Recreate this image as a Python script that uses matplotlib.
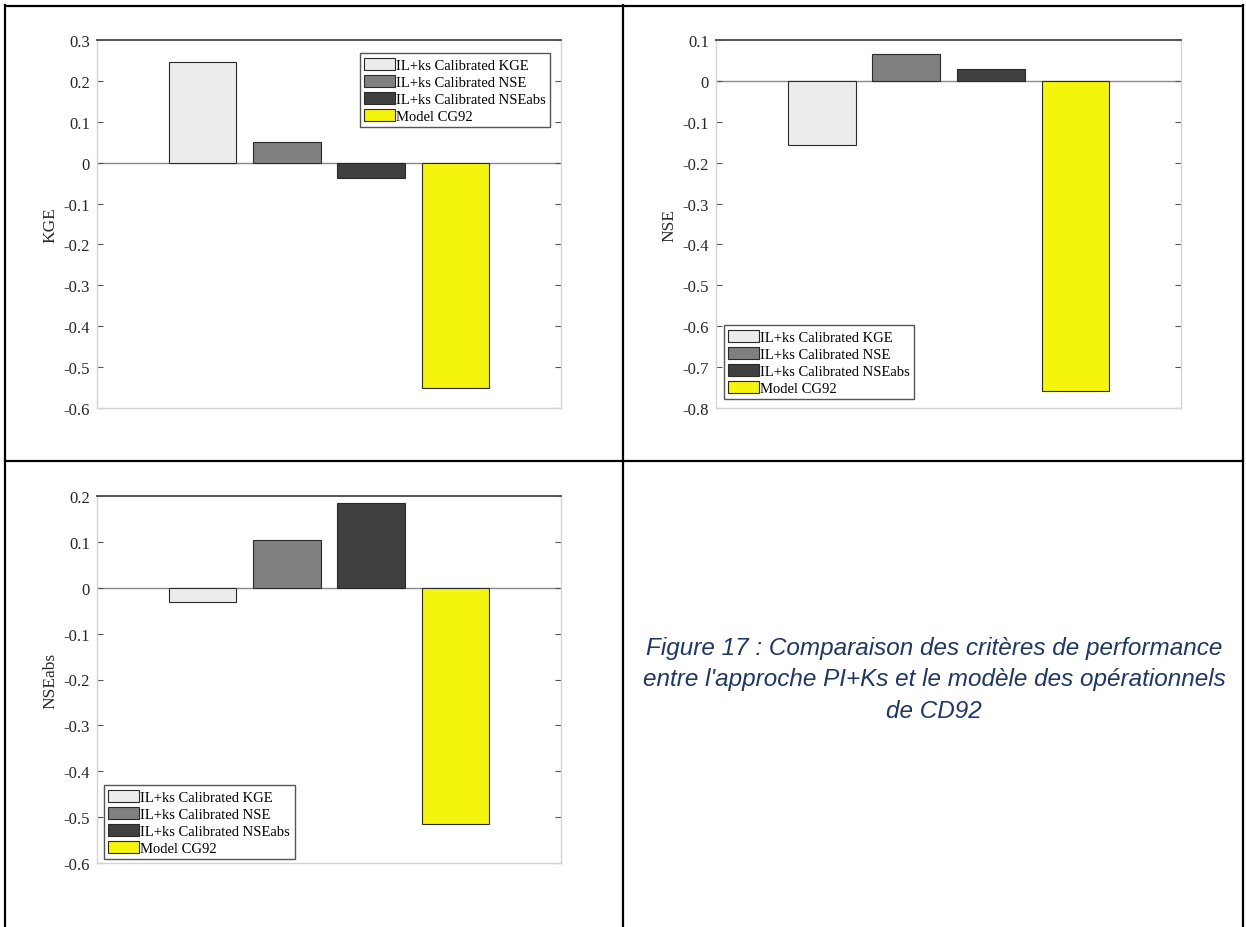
import matplotlib

matplotlib.use("Agg")
import matplotlib.pyplot as plt  # noqa: E402
from matplotlib.lines import Line2D  # noqa: E402
from matplotlib.patches import Patch  # noqa: E402

W, H = 1246, 928

SERIES = ["IL+ks Calibrated KGE", "IL+ks Calibrated NSE",
          "IL+ks Calibrated NSEabs", "Model CG92"]
KGE = [0.247, 0.050, -0.037, -0.552]
NSE = [-0.157, 0.065, 0.029, -0.758]
NSEABS = [-0.030, 0.104, 0.184, -0.514]

KGE_TICKS = [0.3, 0.2, 0.1, 0, -0.1, -0.2, -0.3, -0.4, -0.5, -0.6]
NSE_TICKS = [0.1, 0, -0.1, -0.2, -0.3, -0.4, -0.5, -0.6, -0.7, -0.8]
NSEABS_TICKS = [0.2, 0.1, 0, -0.1, -0.2, -0.3, -0.4, -0.5, -0.6]

CAPTION = ["Figure 17 : Comparaison des critères de performance",
           "entre l'approche PI+Ks et le modèle des opérationnels",
           "de CD92"]

COLORS = ["#ececec", "#808080", "#404040", "#f4f40c"]
SERIF = ["Liberation Serif", "DejaVu Serif"]


def px_axes(fig, left, right, top, bottom):
    return fig.add_axes([left / W, 1 - bottom / H, (right - left) / W, (bottom - top) / H])


def bar_panel(ax, values, ticks, ylabel, legend_loc, legend_anchor):
    xs = list(range(len(values)))
    for x, v, c, lab in zip(xs, values, COLORS, SERIES):
        ax.bar(x, v, width=0.8, color=c, edgecolor="#2a2a2a", linewidth=0.8, label=lab, zorder=2)
    ax.axhline(0, color="#8a8a8a", linewidth=1.0, zorder=1)
    ax.set_xlim(xs[0] - 1.25, xs[-1] + 1.25)
    ax.set_ylim(min(ticks), max(ticks))
    ax.set_yticks(ticks)
    ax.set_yticklabels([f"{t:g}" for t in ticks], fontsize=12, family=SERIF, color="#262626")
    ax.set_xticks([])
    ax.tick_params(axis="y", direction="in", length=4, width=0.8, color="#555555",
                   left=True, right=True, pad=5)
    ax.set_ylabel(ylabel, fontsize=12.5, family=SERIF, color="#262626", labelpad=4)
    for name, s in ax.spines.items():
        s.set_color("#555555" if name == "top" else "#d4d4d4")
        s.set_linewidth(1.4 if name == "top" else 1.0)
    handles = [Patch(facecolor=c, edgecolor="#2a2a2a", linewidth=0.8) for c in COLORS]
    leg = ax.legend(handles, SERIES, loc=legend_loc, bbox_to_anchor=legend_anchor,
                    prop={"family": SERIF, "size": 10.5}, frameon=True, fancybox=False,
                    edgecolor="#555555", framealpha=1, borderpad=0.3, labelspacing=0.2,
                    handlelength=2.1, handleheight=0.9, handletextpad=0.1, borderaxespad=0)
    leg.get_frame().set_linewidth(1.0)


fig = plt.figure(figsize=(W / 100, H / 100), dpi=100)
fig.patch.set_facecolor("white")

ax1 = px_axes(fig, 97, 561, 41, 409)
bar_panel(ax1, KGE, KGE_TICKS, "KGE", "upper left", (0.566, 0.964))

ax2 = px_axes(fig, 716, 1181, 41, 409)
bar_panel(ax2, NSE, NSE_TICKS, "NSE", "lower left", (0.017, 0.024))

ax3 = px_axes(fig, 97, 561, 497, 864)
bar_panel(ax3, NSEABS, NSEABS_TICKS, "NSEabs", "lower left", (0.015, 0.011))

# table borders around the panels
border = dict(color="black", linewidth=1.6, transform=fig.transFigure)
for (x0, y0), (x1, y1) in [((5, 6.5), (1243, 6.5)), ((5, 6), (5, 928)),
                           ((622.5, 6), (622.5, 928)), ((1243, 6), (1243, 928)),
                           ((5, 462), (1243, 462))]:
    fig.add_artist(Line2D([x0 / W, x1 / W], [1 - y0 / H, 1 - y1 / H], **border))

for i, line in enumerate(CAPTION):
    fig.text(934 / W, 1 - (648 + 32 * i) / H, line, ha="center", va="center",
             fontsize=17.5, style="italic", color="#1f3763",
             family=["Liberation Sans", "DejaVu Sans"])

fig.savefig("out.png", dpi=100)
